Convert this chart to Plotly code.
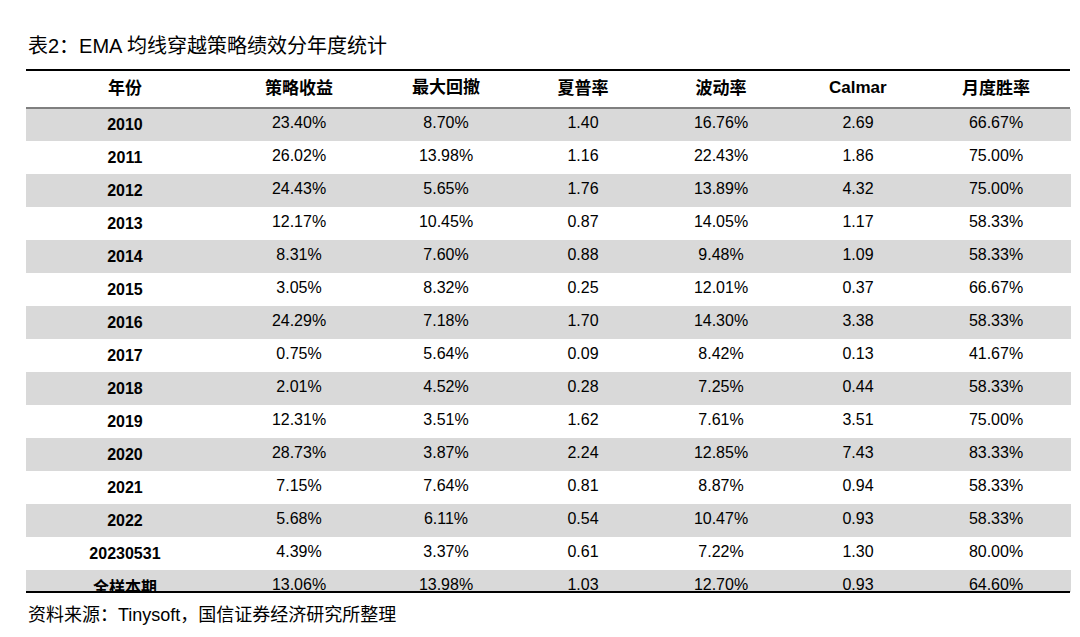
import plotly.graph_objects as go

headers = ["年份", "策略收益", "最大回撤", "夏普率", "波动率", "Calmar", "月度胜率"]
years = ["2010", "2011", "2012", "2013", "2014", "2015", "2016", "2017", "2018",
         "2019", "2020", "2021", "2022", "20230531", "全样本期"]
returns = ["23.40%", "26.02%", "24.43%", "12.17%", "8.31%", "3.05%", "24.29%", "0.75%",
           "2.01%", "12.31%", "28.73%", "7.15%", "5.68%", "4.39%", "13.06%"]
drawdown = ["8.70%", "13.98%", "5.65%", "10.45%", "7.60%", "8.32%", "7.18%", "5.64%",
            "4.52%", "3.51%", "3.87%", "7.64%", "6.11%", "3.37%", "13.98%"]
sharpe = ["1.40", "1.16", "1.76", "0.87", "0.88", "0.25", "1.70", "0.09", "0.28",
          "1.62", "2.24", "0.81", "0.54", "0.61", "1.03"]
volatility = ["16.76%", "22.43%", "13.89%", "14.05%", "9.48%", "12.01%", "14.30%", "8.42%",
              "7.25%", "7.61%", "12.85%", "8.87%", "10.47%", "7.22%", "12.70%"]
calmar = ["2.69", "1.86", "4.32", "1.17", "1.09", "0.37", "3.38", "0.13", "0.44",
          "3.51", "7.43", "0.94", "0.93", "1.30", "0.93"]
win_rate = ["66.67%", "75.00%", "75.00%", "58.33%", "58.33%", "66.67%", "58.33%", "41.67%",
            "58.33%", "75.00%", "83.33%", "58.33%", "58.33%", "80.00%", "64.60%"]

W, H = 1080, 637
FONT = "Liberation Sans, Noto Sans CJK SC, sans-serif"
GRAY = "#d9d9d9"

row_fill = [GRAY if i % 2 == 0 else "white" for i in range(len(years))]
cols = [[f"<b>{y}</b>" for y in years], returns, drawdown, sharpe, volatility, calmar, win_rate]

top, bottom = 62, 584
fig = go.Figure(go.Table(
    domain=dict(x=[18 / W, 1062 / W], y=[1 - bottom / H, 1 - top / H]),
    columnwidth=[198, 150, 144, 130, 146, 128, 148],
    header=dict(values=[f"<b>{h}</b>" for h in headers], height=38,
                fill_color="white", line=dict(color="white", width=1),
                font=dict(family=FONT, size=17, color="black"), align="center"),
    cells=dict(values=cols, height=32,
               fill_color=[row_fill] * len(cols),
               line=dict(color=[row_fill] * len(cols), width=1),
               font=dict(family=FONT, size=16, color="black"), align="center"),
))

# rules above/below header and at bottom
for y, w in [(top, 2), (100, 1), (bottom, 2)]:
    fig.add_shape(type="line", xref="paper", yref="paper",
                  x0=18 / W, x1=1062 / W, y0=1 - y / H, y1=1 - y / H,
                  line=dict(color="black", width=w))

fig.add_annotation(text="表2：EMA 均线穿越策略绩效分年度统计", xref="paper", yref="paper",
                   x=18 / W, y=1 - 38 / H, xanchor="left", yanchor="middle", showarrow=False,
                   font=dict(family=FONT, size=20, color="black"))
fig.add_annotation(text="资料来源：Tinysoft，国信证券经济研究所整理", xref="paper", yref="paper",
                   x=18 / W, y=1 - 607 / H, xanchor="left", yanchor="middle", showarrow=False,
                   font=dict(family=FONT, size=18, color="black"))

fig.update_layout(width=W, height=H, margin=dict(l=0, r=0, t=0, b=0),
                  paper_bgcolor="white", plot_bgcolor="white")
fig.write_html("out.html")
